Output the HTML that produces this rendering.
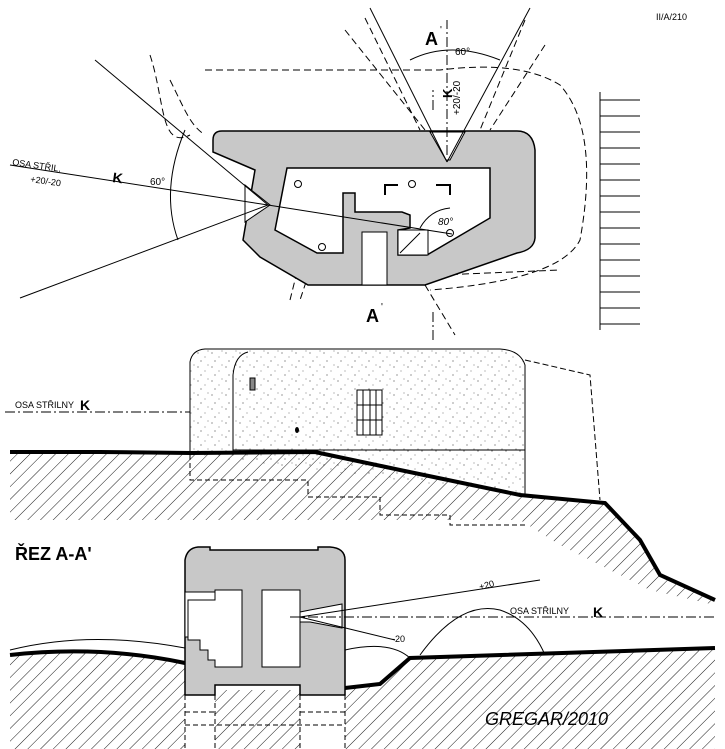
<!DOCTYPE html>
<html><head><meta charset="utf-8"><style>
html,body{margin:0;padding:0;background:#fff;}
svg{display:block;}
text{font-family:"Liberation Sans",sans-serif;fill:#000;}
</style></head><body>
<svg width="725" height="749" viewBox="0 0 725 749" xmlns="http://www.w3.org/2000/svg">
<defs>
<pattern id="h" width="9" height="9" patternUnits="userSpaceOnUse" patternTransform="rotate(45)">
<line x1="0" y1="0" x2="0" y2="9" stroke="#000" stroke-width="0.9"/>
</pattern>
<pattern id="st" width="14" height="14" patternUnits="userSpaceOnUse">
<circle cx="2" cy="3" r="0.6" fill="#555"/><circle cx="9" cy="7" r="0.5" fill="#555"/><circle cx="5" cy="11" r="0.6" fill="#555"/><circle cx="12" cy="1" r="0.5" fill="#555"/>
</pattern>
</defs>

<text x="656" y="20" font-size="9">II/A/210</text>

<!-- PLAN -->
<g stroke="#000" stroke-width="1" fill="none" stroke-dasharray="7,4">
<path d="M150 55 C 165 100 160 150 190 135"/>
<path d="M170 80 C 185 110 190 125 205 135"/>
<path d="M205 70 L 440 70 Q 520 60 560 85 Q 600 130 580 240 Q 560 280 430 290"/>
<path d="M365 18 L 420 130"/><path d="M525 20 L 480 130"/>
<path d="M345 30 L 425 130"/><path d="M545 45 L 490 130"/>
<path d="M425 285 L 455 335"/><path d="M440 275 L 560 270"/>
<path d="M305 240 L 290 300"/><path d="M320 240 L 300 300"/>
</g>
<path d="M600 92 V330" stroke="#000" fill="none"/>
<g stroke="#000">
<line x1="600" y1="100" x2="640" y2="100"/><line x1="600" y1="116" x2="640" y2="116"/><line x1="600" y1="132" x2="640" y2="132"/><line x1="600" y1="148" x2="640" y2="148"/><line x1="600" y1="164" x2="640" y2="164"/><line x1="600" y1="180" x2="640" y2="180"/><line x1="600" y1="196" x2="640" y2="196"/><line x1="600" y1="212" x2="640" y2="212"/><line x1="600" y1="228" x2="640" y2="228"/><line x1="600" y1="244" x2="640" y2="244"/><line x1="600" y1="260" x2="640" y2="260"/><line x1="600" y1="276" x2="640" y2="276"/><line x1="600" y1="292" x2="640" y2="292"/><line x1="600" y1="308" x2="640" y2="308"/><line x1="600" y1="324" x2="640" y2="324"/>
</g>
<path d="M222 131 L517 131 Q533 131 535 150 L535 238 Q534 250 517 253 L425 285 L308 285 L260 257 L243 240 L255 170 L213 152 L213 140 Q213 131 222 131 Z" fill="#c8c8c8" stroke="#000" stroke-width="1.5"/>
<path d="M287 168 L490 168 L490 218 L427 255 L398 255 L398 230 L410 228 L410 215 L402 212 L355 212 L355 193 L343 193 L343 253 L317 253 L275 230 Z" fill="#fff" stroke="#000" stroke-width="1.5"/>
<rect x="362" y="232" width="25" height="53" fill="#fff" stroke="#000"/>
<rect x="398" y="230" width="30" height="25" fill="#fff" stroke="#000"/>
<line x1="400" y1="253" x2="420" y2="233" stroke="#000"/>
<g fill="#fff" stroke="#000"><circle cx="298" cy="184" r="3.5"/><circle cx="412" cy="184" r="3.5"/><circle cx="450" cy="233" r="3.5"/><circle cx="322" cy="247" r="3.5"/></g>
<path d="M385 195 V185 H398 M436 185 H450 V195" stroke="#000" stroke-width="2" fill="none"/>
<path d="M430 132 L465 132 L450 160 L446 160 Z" fill="#fff" stroke="#000"/>
<path d="M245 185 L270 205 L245 222 Z" fill="#fff" stroke="#000"/>
<g stroke="#000" stroke-width="1" fill="none">
<path d="M447 162 L370 8"/><path d="M447 162 L530 8"/>
<path d="M447 155 V20" stroke-dasharray="10,3,2,3"/>
<path d="M268 205 L95 60"/><path d="M268 205 L20 298"/>
<path d="M268 205 L10 165"/>
<path d="M268 205 L452 234"/>
<path d="M410 60 Q 450 40 500 60"/>
<path d="M185 130 Q 160 190 178 240"/>
<path d="M420 228 Q 430 210 450 208"/>
<path d="M433 312 V340 M433 110 V90" stroke-dasharray="10,3,2,3"/>
</g>
<text x="425" y="45" font-size="18" font-weight="bold">A</text><text x="440" y="33" font-size="10">'</text>
<text x="455" y="55" font-size="10">60°</text>
<text x="460" y="115" font-size="10" transform="rotate(-90 460 115)">+20/-20</text>
<text x="452" y="98" font-size="13" font-weight="bold" transform="rotate(-90 452 98)">K</text>
<text x="12" y="165" font-size="9" transform="rotate(8 12 165)">OSA STŘIL.</text>
<text x="30" y="182" font-size="9" transform="rotate(8 30 182)">+20/-20</text>
<text x="112" y="182" font-size="14" font-weight="bold" transform="rotate(8 112 182)">K</text>
<text x="150" y="185" font-size="10">60°</text>
<text x="438" y="225" font-size="10" font-style="italic">80°</text>
<text x="366" y="322" font-size="18" font-weight="bold">A</text><text x="381" y="310" font-size="10">'</text>

<!-- ELEVATION -->
<path d="M190 445 L190 362 Q192 350 205 349 L500 349 Q520 350 525 365 L525 495 L190 455 Z" fill="url(#st)" stroke="none"/>
<path d="M190 455 V362 Q192 350 205 349 L500 349 Q520 350 525 365 V495" fill="none" stroke="#000"/>
<path d="M233 455 V375 Q235 355 248 352" fill="none" stroke="#000"/>
<line x1="233" y1="450" x2="525" y2="450" stroke="#000"/>
<path d="M525 360 L590 375 L600 500" fill="none" stroke="#000" stroke-dasharray="6,3"/>
<rect x="250" y="378" width="5" height="12" fill="#888" stroke="#000"/>
<ellipse cx="297" cy="430" rx="2" ry="3" fill="#000"/>
<rect x="357" y="390" width="25" height="45" fill="#fff" stroke="#000"/>
<g stroke="#000"><line x1="363" y1="390" x2="363" y2="435"/><line x1="370" y1="390" x2="370" y2="435"/><line x1="376" y1="390" x2="376" y2="435"/><line x1="357" y1="405" x2="382" y2="405"/><line x1="357" y1="420" x2="382" y2="420"/></g>
<path d="M10 452 L100 452 L190 453 L315 452 L400 470 L520 495 L605 503 L640 540 L660 575 L715 600 L715 605 L650 590 L560 545 L520 520 L10 520 Z" fill="url(#h)"/>
<path d="M10 452 L100 452 L190 453 L315 452 L400 470 L520 495 L605 503 L640 540 L660 575 L715 600" fill="none" stroke="#000" stroke-width="4"/>
<path d="M190 455 V480 H308 V497 H380 V515 H450 V525 H525" fill="none" stroke="#000" stroke-dasharray="5,3"/>
<line x1="5" y1="412" x2="190" y2="412" stroke="#000" stroke-dasharray="10,3,2,3"/>
<text x="15" y="408" font-size="9">OSA STŘILNY</text><text x="80" y="410" font-size="14" font-weight="bold">K</text>

<!-- SECTION -->
<text x="15" y="560" font-size="18" font-weight="bold">ŘEZ A-A'</text>
<path d="M10 655 Q 100 645 185 663 L185 749 L10 749 Z M345 688 L380 684 L410 658 L715 648 L715 749 L345 749 Z M215 690 H300 V749 H215 Z" fill="url(#h)"/>
<path d="M10 655 Q 100 645 185 663" fill="none" stroke="#000" stroke-width="4"/>
<path d="M345 688 L380 684 L410 658 L715 648" fill="none" stroke="#000" stroke-width="4"/>
<path d="M10 650 Q 90 630 185 648 M345 650 Q 390 640 410 658" fill="none" stroke="#000"/>
<path d="M420 655 Q 460 600 500 610 Q 530 620 545 655" fill="none" stroke="#000"/>
<path d="M185 695 V560 Q187 548 198 547 H210 V550 H318 V547 H330 Q345 548 345 560 V695 H300 V685 H215 V695 Z" fill="#c8c8c8" stroke="#000" stroke-width="1.5"/>
<rect x="185" y="592" width="55" height="45" fill="#fff" stroke="#000"/>
<path d="M215 590 H242 V667 H215 V660 H208 V650 H200 V640 H188 V600 H215 Z" fill="#fff" stroke="#000"/>
<rect x="262" y="590" width="38" height="77" fill="#fff" stroke="#000"/>
<path d="M300 612 L310 610 L342 604 L342 628 L310 622 L300 622 Z" fill="#fff" stroke="#000"/>
<path d="M185 695 V749 M215 695 V749 M300 695 V749 M345 695 V749 M185 712 H215 M300 712 H345 M185 725 H345" fill="none" stroke="#000" stroke-dasharray="5,3"/>
<g stroke="#000" fill="none">
<path d="M300 617 L540 580"/><path d="M300 617 L395 640"/>
<path d="M290 617 H715" stroke-dasharray="10,3,2,3"/>
</g>
<text x="480" y="590" font-size="9" transform="rotate(-15 480 590)">+20</text>
<text x="392" y="642" font-size="9">-20</text>
<text x="510" y="614" font-size="9">OSA STŘILNY</text><text x="593" y="617" font-size="14" font-weight="bold">K</text>
<text x="485" y="725" font-size="18" font-style="italic">GREGAR/2010</text>
</svg>
</body></html>
